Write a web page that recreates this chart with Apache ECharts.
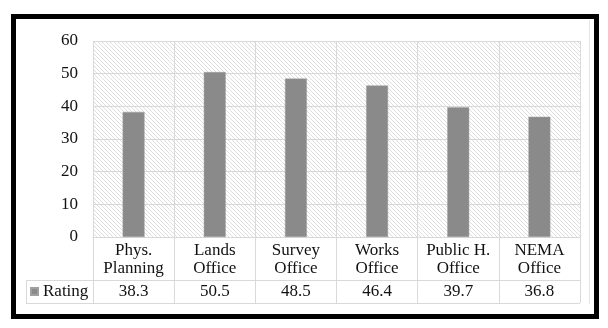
<!DOCTYPE html>
<html>
<head>
<meta charset="utf-8">
<script src="https://cdn.jsdelivr.net/npm/echarts@6/dist/echarts.min.js"></script>
<style>
html,body{margin:0;padding:0;background:#fff;}
#c{width:608px;height:328px;}
</style>
</head>
<body>
<div id="c"></div>
<script>
var categories = ['Phys.\nPlanning', 'Lands\nOffice', 'Survey\nOffice', 'Works\nOffice', 'Public H.\nOffice', 'NEMA\nOffice'];
var ratingValues = [38.3, 50.5, 48.5, 46.4, 39.7, 36.8];
var seriesName = 'Rating';
var yMin = 0, yMax = 60, yStep = 10;

// hatch tile
var tile = document.createElement('canvas');
tile.width = 4; tile.height = 4;
var tctx = tile.getContext('2d');
tctx.fillStyle = '#ffffff';
tctx.fillRect(0, 0, 4, 4);
tctx.fillStyle = '#dedede';
for (var i = 0; i < 4; i++) { tctx.fillRect(i, i, 1, 1); }

var FONT = '"Liberation Serif", "Times New Roman", serif';
var TXT = '#111';
var gridLeft = 93, gridTop = 41, gridRight = 28, gridBottom = 91;

var chart = echarts.init(document.getElementById('c'), null, {renderer: 'canvas'});
chart.setOption({
  animation: false,
  backgroundColor: '#ffffff',
  legend: {
    data: [seriesName],
    left: 30, top: 283, padding: 0,
    icon: 'rect', itemWidth: 7, itemHeight: 7,
    textStyle: {fontFamily: FONT, fontSize: 17, color: TXT}
  },
  grid: {
    left: gridLeft, top: gridTop, right: gridRight, bottom: gridBottom,
    show: true, borderWidth: 0,
    backgroundColor: {image: tile, repeat: 'repeat'}
  },
  xAxis: [{
    type: 'category', data: categories, boundaryGap: true,
    axisLine: {show: true, lineStyle: {color: '#d9d9d9', width: 1}},
    axisTick: {show: true, length: 66, lineStyle: {color: '#d9d9d9', width: 1}},
    axisLabel: {fontFamily: FONT, fontSize: 17, color: TXT, lineHeight: 18, margin: 5, interval: 0},
    splitLine: {show: true, lineStyle: {color: '#d9d9d9', width: 1}}
  }, {
    type: 'category', data: ratingValues.map(function (v) { return v.toFixed(1); }),
    position: 'bottom', offset: 43, boundaryGap: true,
    axisLine: {show: false}, axisTick: {show: false},
    axisLabel: {fontFamily: FONT, fontSize: 17, color: TXT, lineHeight: 18, margin: 3, interval: 0}
  }],
  yAxis: {
    type: 'value', min: yMin, max: yMax, interval: yStep,
    axisLine: {show: false}, axisTick: {show: false},
    axisLabel: {fontFamily: FONT, fontSize: 17, color: TXT, margin: 15},
    splitLine: {show: true, lineStyle: {color: '#d9d9d9', width: 1}}
  },
  series: [{
    name: seriesName, type: 'bar', data: ratingValues, xAxisIndex: 0,
    barWidth: '27%',
    itemStyle: {color: '#8a8a8a', borderColor: '#a0a0a0', borderWidth: 0.5}
  }],
  graphic: [
    {type: 'line', shape: {x1: 26, y1: 280.5, x2: 580, y2: 280.5}, style: {stroke: '#d9d9d9', lineWidth: 1}, silent: true},
    {type: 'line', shape: {x1: 26, y1: 303.5, x2: 580, y2: 303.5}, style: {stroke: '#d9d9d9', lineWidth: 1}, silent: true},
    {type: 'line', shape: {x1: 26.5, y1: 280, x2: 26.5, y2: 304}, style: {stroke: '#d9d9d9', lineWidth: 1}, silent: true},
    {type: 'line', shape: {x1: 589.5, y1: 20, x2: 589.5, y2: 304}, style: {stroke: '#e6e6e6', lineWidth: 1}, silent: true},
    {type: 'rect', shape: {x: 13.5, y: 16.5, width: 583, height: 300}, style: {fill: 'none', stroke: '#000', lineWidth: 5}, silent: true, z: 100}
  ]
});
</script>
</body>
</html>
